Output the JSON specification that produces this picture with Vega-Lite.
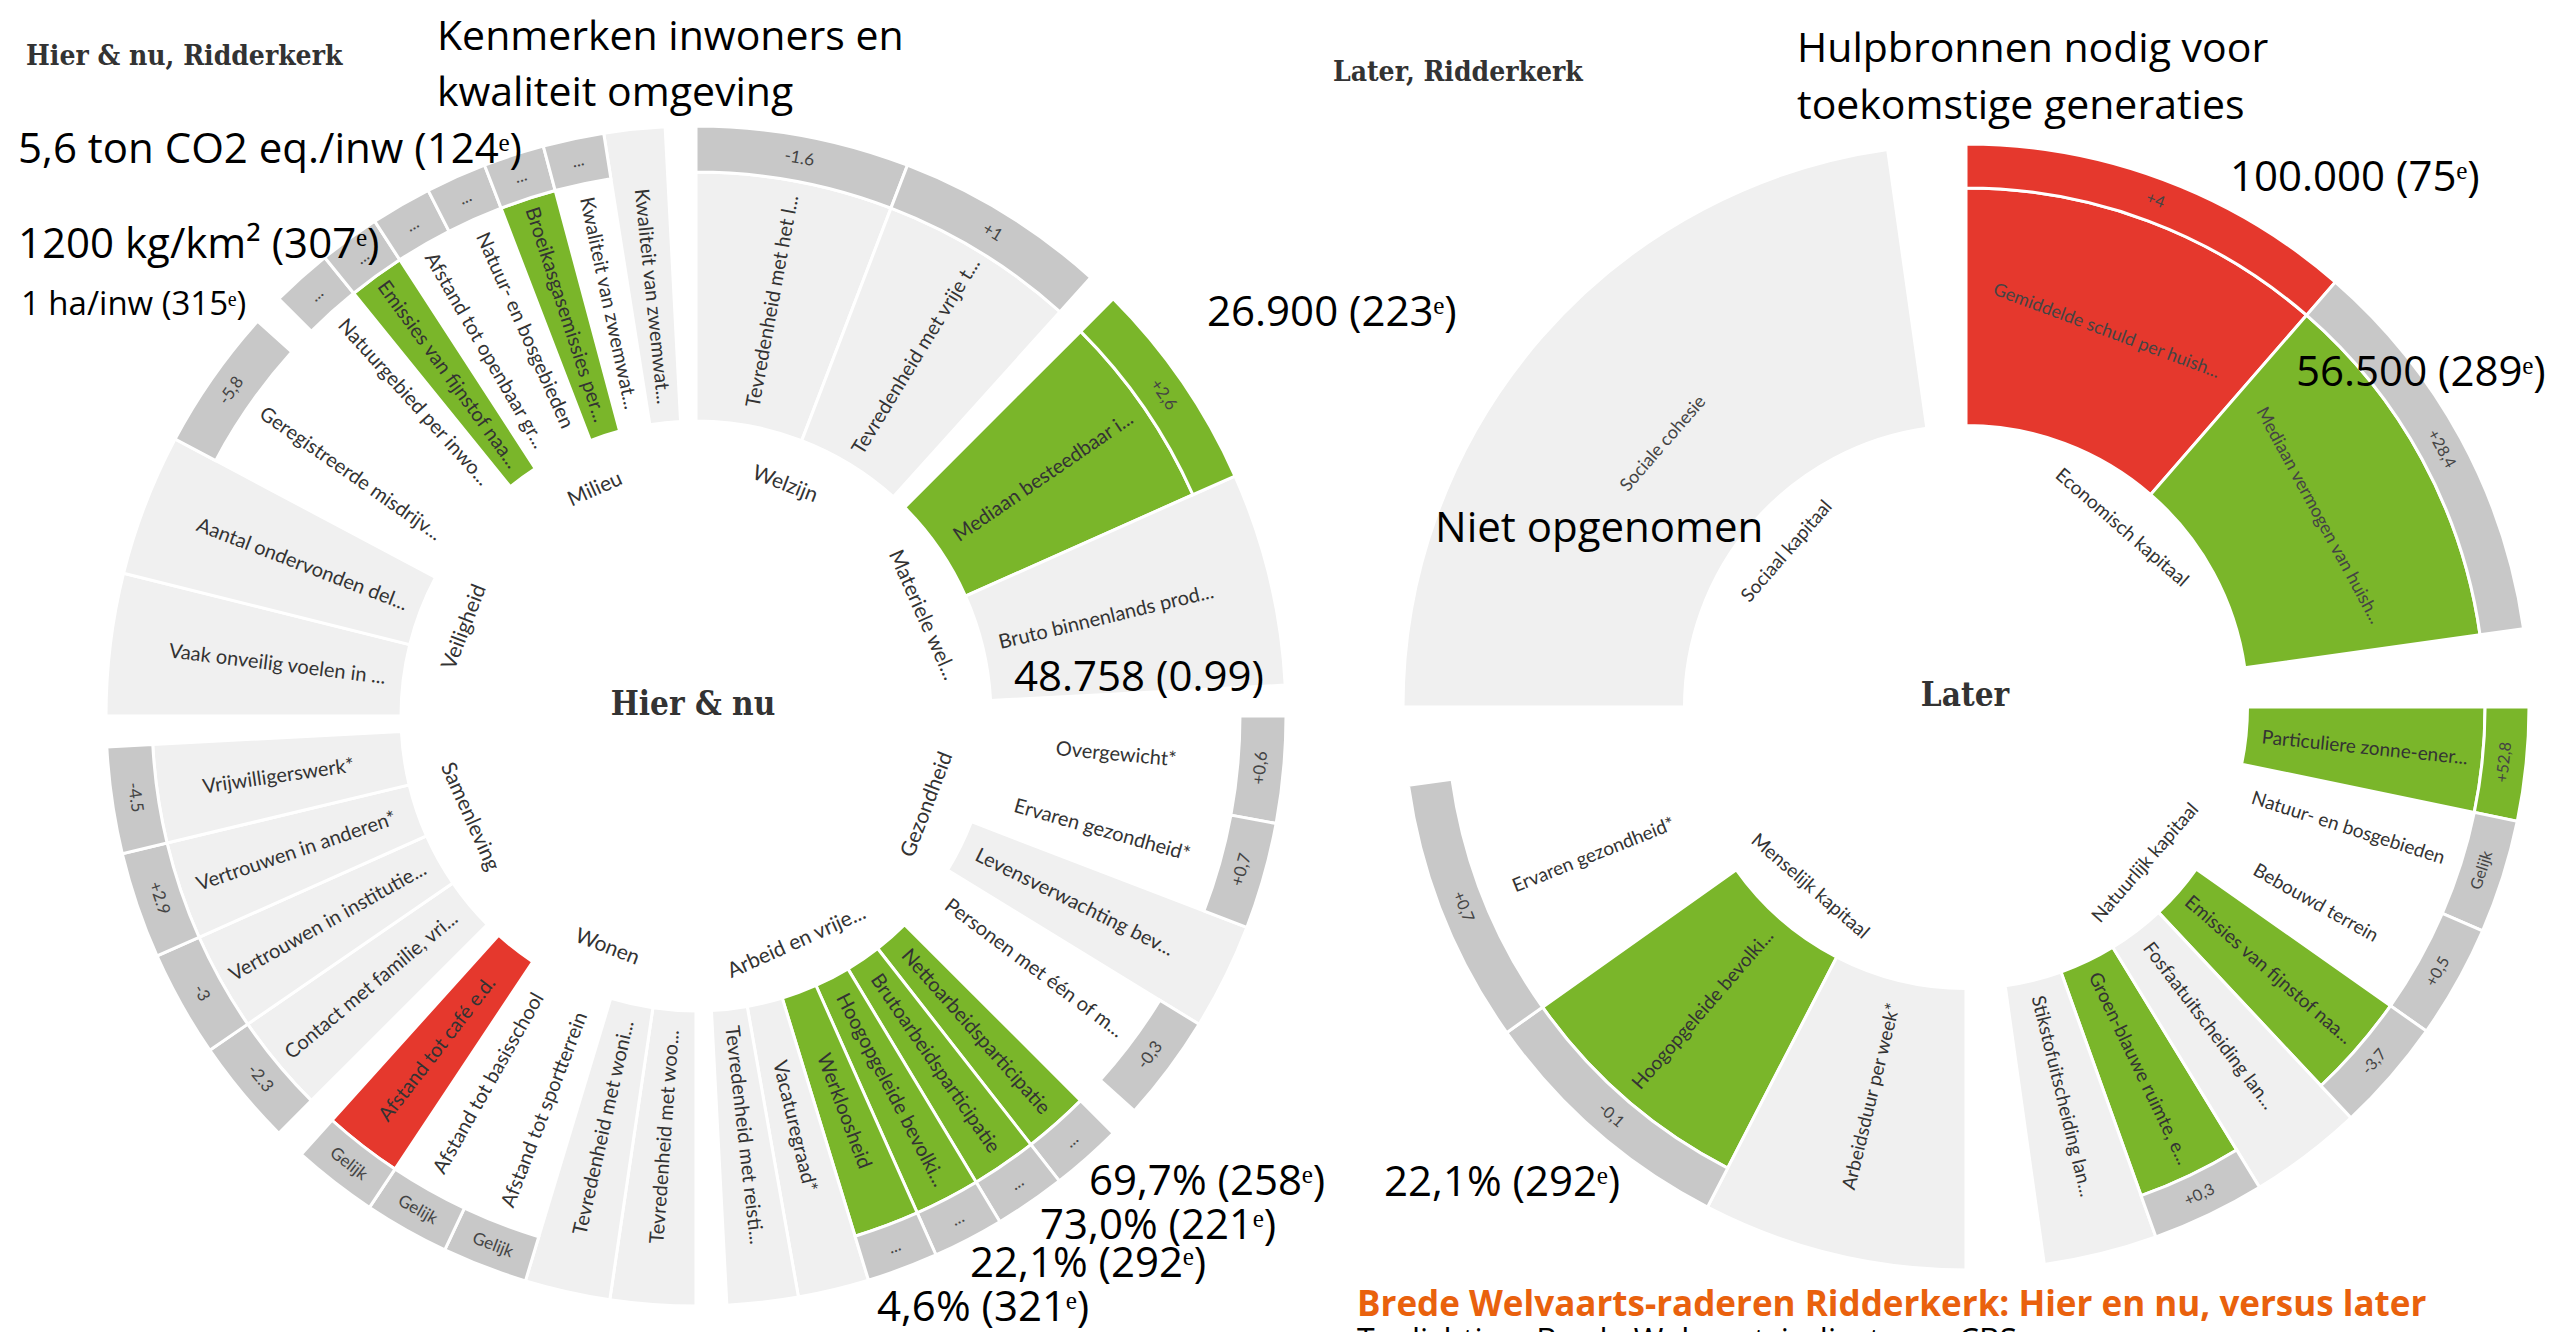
{
  "$schema": "https://vega.github.io/schema/vega-lite/v6.json",
  "width": 2557,
  "height": 1332,
  "autosize": {"type": "none"},
  "padding": 0,
  "background": "white",
  "config": {"view": {"stroke": null}},
  "datasets": {
    "hierNu": [
      {"thema": "Welzijn", "indicator": "Tevredenheid met het l...", "status": "geen oordeel", "trend": "-1.6", "trendKlasse": "neutraal"},
      {"thema": "Welzijn", "indicator": "Tevredenheid met vrije t...", "status": "geen oordeel", "trend": "+1", "trendKlasse": "neutraal"},
      {"thema": "Materiele wel...", "indicator": "Mediaan besteedbaar i...", "status": "relatief goed", "trend": "+2,6", "trendKlasse": "verbetering", "waarde": "26.900 (223ᵉ)"},
      {"thema": "Materiele wel...", "indicator": "Bruto binnenlands prod...", "status": "geen oordeel", "trend": null, "trendKlasse": null, "waarde": "48.758 (0.99)"},
      {"thema": "Gezondheid", "indicator": "Overgewicht*", "status": "gemiddeld", "trend": "+0,6", "trendKlasse": "neutraal"},
      {"thema": "Gezondheid", "indicator": "Ervaren gezondheid*", "status": "gemiddeld", "trend": "+0,7", "trendKlasse": "neutraal"},
      {"thema": "Gezondheid", "indicator": "Levensverwachting bev...", "status": "geen oordeel", "trend": null, "trendKlasse": null},
      {"thema": "Gezondheid", "indicator": "Personen met één of m...", "status": "gemiddeld", "trend": "-0,3", "trendKlasse": "neutraal"},
      {"thema": "Arbeid en vrije...", "indicator": "Nettoarbeidsparticipatie", "status": "relatief goed", "trend": "...", "trendKlasse": "onbekend", "waarde": "69,7% (258ᵉ)"},
      {"thema": "Arbeid en vrije...", "indicator": "Brutoarbeidsparticipatie", "status": "relatief goed", "trend": "...", "trendKlasse": "onbekend", "waarde": "73,0% (221ᵉ)"},
      {"thema": "Arbeid en vrije...", "indicator": "Hoogopgeleide bevolki...", "status": "relatief goed", "trend": "...", "trendKlasse": "onbekend", "waarde": "22,1% (292ᵉ)"},
      {"thema": "Arbeid en vrije...", "indicator": "Werkloosheid", "status": "relatief goed", "trend": "...", "trendKlasse": "onbekend", "waarde": "4,6% (321ᵉ)"},
      {"thema": "Arbeid en vrije...", "indicator": "Vacaturegraad*", "status": "geen oordeel", "trend": null, "trendKlasse": null},
      {"thema": "Arbeid en vrije...", "indicator": "Tevredenheid met reisti...", "status": "geen oordeel", "trend": null, "trendKlasse": null},
      {"thema": "Wonen", "indicator": "Tevredenheid met woo...", "status": "geen oordeel", "trend": null, "trendKlasse": null},
      {"thema": "Wonen", "indicator": "Tevredenheid met woni...", "status": "geen oordeel", "trend": null, "trendKlasse": null},
      {"thema": "Wonen", "indicator": "Afstand tot sportterrein", "status": "gemiddeld", "trend": "Gelijk", "trendKlasse": "neutraal"},
      {"thema": "Wonen", "indicator": "Afstand tot basisschool", "status": "gemiddeld", "trend": "Gelijk", "trendKlasse": "neutraal"},
      {"thema": "Wonen", "indicator": "Afstand tot café e.d.", "status": "relatief slecht", "trend": "Gelijk", "trendKlasse": "neutraal"},
      {"thema": "Samenleving", "indicator": "Contact met familie, vri...", "status": "geen oordeel", "trend": "-2.3", "trendKlasse": "neutraal"},
      {"thema": "Samenleving", "indicator": "Vertrouwen in institutie...", "status": "geen oordeel", "trend": "-3", "trendKlasse": "neutraal"},
      {"thema": "Samenleving", "indicator": "Vertrouwen in anderen*", "status": "geen oordeel", "trend": "+2.9", "trendKlasse": "neutraal"},
      {"thema": "Samenleving", "indicator": "Vrijwilligerswerk*", "status": "geen oordeel", "trend": "-4.5", "trendKlasse": "neutraal"},
      {"thema": "Veiligheid", "indicator": "Vaak onveilig voelen in ...", "status": "geen oordeel", "trend": null, "trendKlasse": null},
      {"thema": "Veiligheid", "indicator": "Aantal ondervonden del...", "status": "geen oordeel", "trend": null, "trendKlasse": null},
      {"thema": "Veiligheid", "indicator": "Geregistreerde misdrijv...", "status": "gemiddeld", "trend": "-5,8", "trendKlasse": "neutraal"},
      {"thema": "Milieu", "indicator": "Natuurgebied per inwo...", "status": "gemiddeld", "trend": "...", "trendKlasse": "onbekend", "waarde": "1 ha/inw (315ᵉ)"},
      {"thema": "Milieu", "indicator": "Emissies van fijnstof naa...", "status": "relatief goed", "trend": "...", "trendKlasse": "onbekend", "waarde": "1200 kg/km² (307ᵉ)"},
      {"thema": "Milieu", "indicator": "Afstand tot openbaar gr...", "status": "gemiddeld", "trend": "...", "trendKlasse": "onbekend"},
      {"thema": "Milieu", "indicator": "Natuur- en bosgebieden", "status": "gemiddeld", "trend": "...", "trendKlasse": "onbekend"},
      {"thema": "Milieu", "indicator": "Broeikasgasemissies per...", "status": "relatief goed", "trend": "...", "trendKlasse": "onbekend", "waarde": "5,6 ton CO2 eq./inw (124ᵉ)"},
      {"thema": "Milieu", "indicator": "Kwaliteit van zwemwat...", "status": "gemiddeld", "trend": "...", "trendKlasse": "onbekend"},
      {"thema": "Milieu", "indicator": "Kwaliteit van zwemwat...", "status": "geen oordeel", "trend": null, "trendKlasse": null}
    ],
    "later": [
      {"thema": "Economisch kapitaal", "indicator": "Gemiddelde schuld per huish...", "status": "relatief slecht", "trend": "+4", "trendKlasse": "verslechtering", "waarde": "100.000 (75ᵉ)"},
      {"thema": "Economisch kapitaal", "indicator": "Mediaan vermogen van huish...", "status": "relatief goed", "trend": "+28,4", "trendKlasse": "neutraal", "waarde": "56.500 (289ᵉ)"},
      {"thema": "Natuurlijk kapitaal", "indicator": "Particuliere zonne-ener...", "status": "relatief goed", "trend": "+52,8", "trendKlasse": "verbetering"},
      {"thema": "Natuurlijk kapitaal", "indicator": "Natuur- en bosgebieden", "status": "gemiddeld", "trend": "Gelijk", "trendKlasse": "neutraal"},
      {"thema": "Natuurlijk kapitaal", "indicator": "Bebouwd terrein", "status": "gemiddeld", "trend": "+0,5", "trendKlasse": "neutraal"},
      {"thema": "Natuurlijk kapitaal", "indicator": "Emissies van fijnstof naa...", "status": "relatief goed", "trend": "-3,7", "trendKlasse": "neutraal"},
      {"thema": "Natuurlijk kapitaal", "indicator": "Fosfaatuitscheiding lan...", "status": "geen oordeel", "trend": null, "trendKlasse": null},
      {"thema": "Natuurlijk kapitaal", "indicator": "Groen-blauwe ruimte, e...", "status": "relatief goed", "trend": "+0,3", "trendKlasse": "neutraal"},
      {"thema": "Natuurlijk kapitaal", "indicator": "Stikstofuitscheiding lan...", "status": "geen oordeel", "trend": null, "trendKlasse": null},
      {"thema": "Menselijk kapitaal", "indicator": "Arbeidsduur per week*", "status": "geen oordeel", "trend": null, "trendKlasse": null},
      {"thema": "Menselijk kapitaal", "indicator": "Hoogopgeleide bevolki...", "status": "relatief goed", "trend": "-0,1", "trendKlasse": "neutraal", "waarde": "22,1% (292ᵉ)"},
      {"thema": "Menselijk kapitaal", "indicator": "Ervaren gezondheid*", "status": "gemiddeld", "trend": "+0,7", "trendKlasse": "neutraal"},
      {"thema": "Sociaal kapitaal", "indicator": "Sociale cohesie", "status": "geen oordeel", "trend": null, "trendKlasse": null, "waarde": "Niet opgenomen"}
    ],
    "koppenL": [
      {"rol": "titel", "tekst": "Hier & nu, Ridderkerk"},
      {"rol": "onderwerp", "tekst": "Kenmerken inwoners en\nkwaliteit omgeving"},
      {"rol": "midden", "tekst": "Hier & nu"}
    ],
    "koppenR": [
      {"rol": "titel", "tekst": "Later, Ridderkerk"},
      {"rol": "onderwerp", "tekst": "Hulpbronnen nodig voor\ntoekomstige generaties"},
      {"rol": "midden", "tekst": "Later"},
      {"rol": "bijschrift", "tekst": "Brede Welvaarts-raderen Ridderkerk: Hier en nu, versus later"},
      {"rol": "toelichting", "tekst": "Toelichting: Brede Welvaartsindicatoren CBS"}
    ]
  },
  "layer": [
    {
      "data": {"name": "hierNu"},
      "transform": [
        {"window": [{"op": "row_number", "as": "i"}]},
        {"joinaggregate": [{"op": "min", "field": "i", "as": "i0"}, {"op": "count", "as": "n"}], "groupby": ["thema"]},
        {"window": [{"op": "dense_rank", "as": "k"}], "sort": [{"field": "i0", "order": "ascending"}]},
        {"calculate": "(datum.k - 1) * 45 + (datum.i - datum.i0) * 42 / datum.n", "as": "t0"},
        {"calculate": "datum.t0 + 42 / datum.n", "as": "t1"},
        {"calculate": "(datum.t0 + datum.t1) / 2", "as": "tm"},
        {"calculate": "(datum.k - 1) * 45 + 21", "as": "thm"},
        {"calculate": "datum.tm < 180 ? datum.tm - 90 : datum.tm - 270", "as": "rotR"},
        {"calculate": "datum.tm < 90 ? datum.tm : (datum.tm < 270 ? datum.tm - 180 : datum.tm - 360)", "as": "rotT"},
        {"calculate": "datum.thm < 90 ? datum.thm : (datum.thm < 270 ? datum.thm - 180 : datum.thm - 360)", "as": "rotThema"}
      ],
      "encoding": {
        "x": {"datum": "Hier & nu", "type": "nominal", "scale": {"type": "point", "domain": ["Hier & nu", "Later"], "range": [696, 1966], "padding": 0}, "axis": null},
        "y": {"datum": "Hier & nu", "type": "nominal", "scale": {"type": "point", "domain": ["Hier & nu", "Later"], "range": [716, 707], "padding": 0}, "axis": null}
      },
      "layer": [
        {
          "transform": [{"filter": "datum.status !== 'gemiddeld' && isValid(datum.trend)"}],
          "mark": {"type": "arc", "stroke": "white", "strokeWidth": 3},
          "encoding": {
            "theta": {"field": "t0", "type": "quantitative", "stack": null, "scale": {"domain": [0, 360], "range": [0, 6.283185307179586], "nice": false}},
            "theta2": {"field": "t1"},
            "radius": {"datum": 0.5, "type": "quantitative", "scale": {"type": "linear", "domain": [0, 1], "range": [0, 590], "nice": false}},
            "radius2": {"datum": 0.922},
            "color": {"field": "status", "type": "nominal", "legend": null, "scale": {"domain": ["relatief goed", "relatief slecht", "geen oordeel", "verbetering", "verslechtering", "neutraal", "onbekend"], "range": ["#7ab62a", "#e5382d", "#f0f0f0", "#7ab62a", "#e5382d", "#c8c8c8", "#c8c8c8"]}}
          }
        },
        {
          "transform": [{"filter": "datum.status !== 'gemiddeld' && !isValid(datum.trend)"}],
          "mark": {"type": "arc", "stroke": "white", "strokeWidth": 3},
          "encoding": {
            "theta": {"field": "t0", "type": "quantitative", "stack": null, "scale": {"domain": [0, 360], "range": [0, 6.283185307179586], "nice": false}},
            "theta2": {"field": "t1"},
            "radius": {"datum": 0.5, "type": "quantitative", "scale": {"type": "linear", "domain": [0, 1], "range": [0, 590], "nice": false}},
            "radius2": {"datum": 1},
            "color": {"field": "status", "type": "nominal", "legend": null, "scale": {"domain": ["relatief goed", "relatief slecht", "geen oordeel", "verbetering", "verslechtering", "neutraal", "onbekend"], "range": ["#7ab62a", "#e5382d", "#f0f0f0", "#7ab62a", "#e5382d", "#c8c8c8", "#c8c8c8"]}}
          }
        },
        {
          "transform": [{"filter": "isValid(datum.trend)"}],
          "mark": {"type": "arc", "stroke": "white", "strokeWidth": 3},
          "encoding": {
            "theta": {"field": "t0", "type": "quantitative", "stack": null, "scale": {"domain": [0, 360], "range": [0, 6.283185307179586], "nice": false}},
            "theta2": {"field": "t1"},
            "radius": {"datum": 0.922, "type": "quantitative", "scale": {"type": "linear", "domain": [0, 1], "range": [0, 590], "nice": false}},
            "radius2": {"datum": 1},
            "color": {"field": "trendKlasse", "type": "nominal", "legend": null, "scale": {"domain": ["relatief goed", "relatief slecht", "geen oordeel", "verbetering", "verslechtering", "neutraal", "onbekend"], "range": ["#7ab62a", "#e5382d", "#f0f0f0", "#7ab62a", "#e5382d", "#c8c8c8", "#c8c8c8"]}}
          }
        },
        {
          "mark": {"type": "text", "font": "Lato", "fontSize": 20, "color": "#333333", "align": "center", "baseline": "middle"},
          "encoding": {
            "theta": {"field": "tm", "type": "quantitative", "stack": null, "scale": {"domain": [0, 360], "range": [0, 6.283185307179586], "nice": false}},
            "radius": {"datum": 0.715, "type": "quantitative", "scale": {"type": "linear", "domain": [0, 1], "range": [0, 590], "nice": false}},
            "angle": {"field": "rotR", "type": "quantitative", "scale": null},
            "text": {"field": "indicator"}
          }
        },
        {
          "transform": [{"filter": "isValid(datum.trend)"}],
          "mark": {"type": "text", "font": "Lato", "fontSize": 17, "color": "#444444", "align": "center", "baseline": "middle"},
          "encoding": {
            "theta": {"field": "tm", "type": "quantitative", "stack": null, "scale": {"domain": [0, 360], "range": [0, 6.283185307179586], "nice": false}},
            "radius": {"datum": 0.961, "type": "quantitative", "scale": {"type": "linear", "domain": [0, 1], "range": [0, 590], "nice": false}},
            "angle": {"field": "rotT", "type": "quantitative", "scale": null},
            "text": {"field": "trend"}
          }
        },
        {
          "transform": [{"filter": "datum.i === datum.i0"}],
          "mark": {"type": "text", "font": "Lato", "fontSize": 21, "color": "#333333", "align": "center", "baseline": "middle"},
          "encoding": {
            "theta": {"field": "thm", "type": "quantitative", "stack": null, "scale": {"domain": [0, 360], "range": [0, 6.283185307179586], "nice": false}},
            "radius": {"datum": 0.42, "type": "quantitative", "scale": {"type": "linear", "domain": [0, 1], "range": [0, 590], "nice": false}},
            "angle": {"field": "rotThema", "type": "quantitative", "scale": null},
            "text": {"field": "thema"}
          }
        },
        {
          "transform": [{"filter": "datum.indicator === 'Mediaan besteedbaar i...'"}],
          "mark": {"type": "text", "font": "Open Sans", "fontSize": 42, "color": "black", "align": "left", "baseline": "middle"},
          "encoding": {"theta": {"datum": 51.74, "type": "quantitative"}, "radius": {"datum": 1.1031, "type": "quantitative"}, "text": {"field": "waarde"}}
        },
        {
          "transform": [{"filter": "datum.indicator === 'Bruto binnenlands prod...'"}],
          "mark": {"type": "text", "font": "Open Sans", "fontSize": 42, "color": "black", "align": "left", "baseline": "middle"},
          "encoding": {"theta": {"datum": 83.19, "type": "quantitative"}, "radius": {"datum": 0.5428, "type": "quantitative"}, "text": {"field": "waarde"}}
        },
        {
          "transform": [{"filter": "datum.indicator === 'Nettoarbeidsparticipatie'"}],
          "mark": {"type": "text", "font": "Open Sans", "fontSize": 42, "color": "black", "align": "left", "baseline": "middle"},
          "encoding": {"theta": {"datum": 139.86, "type": "quantitative"}, "radius": {"datum": 1.0332, "type": "quantitative"}, "text": {"field": "waarde"}}
        },
        {
          "transform": [{"filter": "datum.indicator === 'Brutoarbeidsparticipatie'"}],
          "mark": {"type": "text", "font": "Open Sans", "fontSize": 42, "color": "black", "align": "left", "baseline": "middle"},
          "encoding": {"theta": {"datum": 146.0, "type": "quantitative"}, "radius": {"datum": 1.0427, "type": "quantitative"}, "text": {"field": "waarde"}}
        },
        {
          "transform": [{"filter": "datum.indicator === 'Hoogopgeleide bevolki...'"}],
          "mark": {"type": "text", "font": "Open Sans", "fontSize": 42, "color": "black", "align": "left", "baseline": "middle"},
          "encoding": {"theta": {"datum": 153.43, "type": "quantitative"}, "radius": {"datum": 1.0385, "type": "quantitative"}, "text": {"field": "waarde"}}
        },
        {
          "transform": [{"filter": "datum.indicator === 'Werkloosheid'"}],
          "mark": {"type": "text", "font": "Open Sans", "fontSize": 42, "color": "black", "align": "left", "baseline": "middle"},
          "encoding": {"theta": {"datum": 163.0, "type": "quantitative"}, "radius": {"datum": 1.0492, "type": "quantitative"}, "text": {"field": "waarde"}}
        },
        {
          "transform": [{"filter": "datum.indicator === 'Broeikasgasemissies per...'"}],
          "mark": {"type": "text", "font": "Open Sans", "fontSize": 42, "color": "black", "align": "left", "baseline": "middle"},
          "encoding": {"theta": {"datum": 309.86, "type": "quantitative"}, "radius": {"datum": 1.497, "type": "quantitative"}, "text": {"field": "waarde"}}
        },
        {
          "transform": [{"filter": "datum.indicator === 'Emissies van fijnstof naa...'"}],
          "mark": {"type": "text", "font": "Open Sans", "fontSize": 42, "color": "black", "align": "left", "baseline": "middle"},
          "encoding": {"theta": {"datum": 304.79, "type": "quantitative"}, "radius": {"datum": 1.3992, "type": "quantitative"}, "text": {"field": "waarde"}}
        },
        {
          "transform": [{"filter": "datum.indicator === 'Natuurgebied per inwo...'"}],
          "mark": {"type": "text", "font": "Open Sans", "fontSize": 33, "color": "black", "align": "left", "baseline": "middle"},
          "encoding": {"theta": {"datum": 301.33, "type": "quantitative"}, "radius": {"datum": 1.3395, "type": "quantitative"}, "text": {"field": "waarde"}}
        }
      ]
    },
    {
      "data": {"name": "koppenL"},
      "encoding": {
        "x": {"datum": "Hier & nu", "type": "nominal", "scale": {"type": "point", "domain": ["Hier & nu", "Later"], "range": [696, 1966], "padding": 0}, "axis": null},
        "y": {"datum": "Hier & nu", "type": "nominal", "scale": {"type": "point", "domain": ["Hier & nu", "Later"], "range": [716, 707], "padding": 0}, "axis": null}
      },
      "layer": [
        {
          "transform": [{"filter": "datum.rol === 'titel'"}],
          "mark": {"type": "text", "font": "DejaVu Serif Condensed, DejaVu Serif", "fontWeight": "bold", "fontSize": 28, "color": "#333333", "align": "left", "baseline": "middle"},
          "encoding": {
            "theta": {"datum": 314.53, "type": "quantitative", "scale": {"domain": [0, 360], "range": [0, 6.283185307179586], "nice": false}},
            "radius": {"datum": 1.5929, "type": "quantitative", "scale": {"type": "linear", "domain": [0, 1], "range": [0, 590], "nice": false}},
            "text": {"field": "tekst"}
          }
        },
        {
          "transform": [{"filter": "datum.rol === 'onderwerp'"}],
          "mark": {"type": "text", "font": "Open Sans", "fontSize": 41, "color": "black", "align": "left", "baseline": "alphabetic", "lineBreak": "\n", "lineHeight": 56},
          "encoding": {
            "theta": {"datum": 338.75, "type": "quantitative"},
            "radius": {"datum": 1.2112, "type": "quantitative"},
            "text": {"field": "tekst"}
          }
        },
        {
          "transform": [{"filter": "datum.rol === 'midden'"}],
          "mark": {"type": "text", "font": "DejaVu Serif Condensed, DejaVu Serif", "fontWeight": "bold", "fontSize": 33, "color": "#333333", "align": "center", "baseline": "middle"},
          "encoding": {
            "theta": {"datum": 345, "type": "quantitative"},
            "radius": {"datum": 0.0193, "type": "quantitative"},
            "text": {"field": "tekst"}
          }
        }
      ]
    },
    {
      "data": {"name": "later"},
      "transform": [
        {"window": [{"op": "row_number", "as": "i"}]},
        {"joinaggregate": [{"op": "min", "field": "i", "as": "i0"}, {"op": "count", "as": "n"}], "groupby": ["thema"]},
        {"window": [{"op": "dense_rank", "as": "k"}], "sort": [{"field": "i0", "order": "ascending"}]},
        {"calculate": "(datum.k - 1) * 90 + (datum.i - datum.i0) * 82 / datum.n", "as": "t0"},
        {"calculate": "datum.t0 + 82 / datum.n", "as": "t1"},
        {"calculate": "(datum.t0 + datum.t1) / 2", "as": "tm"},
        {"calculate": "(datum.k - 1) * 90 + 41", "as": "thm"},
        {"calculate": "datum.tm < 180 ? datum.tm - 90 : datum.tm - 270", "as": "rotR"},
        {"calculate": "datum.tm < 90 ? datum.tm : (datum.tm < 270 ? datum.tm - 180 : datum.tm - 360)", "as": "rotT"},
        {"calculate": "datum.thm < 90 ? datum.thm : (datum.thm < 270 ? datum.thm - 180 : datum.thm - 360)", "as": "rotThema"}
      ],
      "encoding": {
        "x": {"datum": "Later", "type": "nominal", "scale": {"type": "point", "domain": ["Hier & nu", "Later"], "range": [696, 1966], "padding": 0}, "axis": null},
        "y": {"datum": "Later", "type": "nominal", "scale": {"type": "point", "domain": ["Hier & nu", "Later"], "range": [716, 707], "padding": 0}, "axis": null}
      },
      "layer": [
        {
          "transform": [{"filter": "datum.status !== 'gemiddeld' && isValid(datum.trend)"}],
          "mark": {"type": "arc", "stroke": "white", "strokeWidth": 3},
          "encoding": {
            "theta": {"field": "t0", "type": "quantitative", "stack": null, "scale": {"domain": [0, 360], "range": [0, 6.283185307179586], "nice": false}},
            "theta2": {"field": "t1"},
            "radius": {"datum": 0.5, "type": "quantitative", "scale": {"type": "linear", "domain": [0, 1], "range": [0, 563], "nice": false}},
            "radius2": {"datum": 0.922},
            "color": {"field": "status", "type": "nominal", "legend": null, "scale": {"domain": ["relatief goed", "relatief slecht", "geen oordeel", "verbetering", "verslechtering", "neutraal", "onbekend"], "range": ["#7ab62a", "#e5382d", "#f0f0f0", "#7ab62a", "#e5382d", "#c8c8c8", "#c8c8c8"]}}
          }
        },
        {
          "transform": [{"filter": "datum.status !== 'gemiddeld' && !isValid(datum.trend)"}],
          "mark": {"type": "arc", "stroke": "white", "strokeWidth": 3},
          "encoding": {
            "theta": {"field": "t0", "type": "quantitative", "stack": null, "scale": {"domain": [0, 360], "range": [0, 6.283185307179586], "nice": false}},
            "theta2": {"field": "t1"},
            "radius": {"datum": 0.5, "type": "quantitative", "scale": {"type": "linear", "domain": [0, 1], "range": [0, 563], "nice": false}},
            "radius2": {"datum": 1},
            "color": {"field": "status", "type": "nominal", "legend": null, "scale": {"domain": ["relatief goed", "relatief slecht", "geen oordeel", "verbetering", "verslechtering", "neutraal", "onbekend"], "range": ["#7ab62a", "#e5382d", "#f0f0f0", "#7ab62a", "#e5382d", "#c8c8c8", "#c8c8c8"]}}
          }
        },
        {
          "transform": [{"filter": "isValid(datum.trend)"}],
          "mark": {"type": "arc", "stroke": "white", "strokeWidth": 3},
          "encoding": {
            "theta": {"field": "t0", "type": "quantitative", "stack": null, "scale": {"domain": [0, 360], "range": [0, 6.283185307179586], "nice": false}},
            "theta2": {"field": "t1"},
            "radius": {"datum": 0.922, "type": "quantitative", "scale": {"type": "linear", "domain": [0, 1], "range": [0, 563], "nice": false}},
            "radius2": {"datum": 1},
            "color": {"field": "trendKlasse", "type": "nominal", "legend": null, "scale": {"domain": ["relatief goed", "relatief slecht", "geen oordeel", "verbetering", "verslechtering", "neutraal", "onbekend"], "range": ["#7ab62a", "#e5382d", "#f0f0f0", "#7ab62a", "#e5382d", "#c8c8c8", "#c8c8c8"]}}
          }
        },
        {
          "transform": [{"filter": "datum.thema !== 'Economisch kapitaal' && datum.thema !== 'Sociaal kapitaal'"}],
          "mark": {"type": "text", "font": "Lato", "fontSize": 19, "color": "#333333", "align": "center", "baseline": "middle"},
          "encoding": {
            "theta": {"field": "tm", "type": "quantitative", "stack": null, "scale": {"domain": [0, 360], "range": [0, 6.283185307179586], "nice": false}},
            "radius": {"datum": 0.712, "type": "quantitative", "scale": {"type": "linear", "domain": [0, 1], "range": [0, 563], "nice": false}},
            "angle": {"field": "rotR", "type": "quantitative", "scale": null},
            "text": {"field": "indicator"}
          }
        },
        {
          "transform": [{"filter": "datum.thema === 'Economisch kapitaal' || datum.thema === 'Sociaal kapitaal'"}],
          "mark": {"type": "text", "font": "Lato", "fontSize": 18, "color": "#444444", "align": "center", "baseline": "middle"},
          "encoding": {
            "theta": {"field": "tm", "type": "quantitative", "stack": null, "scale": {"domain": [0, 360], "range": [0, 6.283185307179586], "nice": false}},
            "radius": {"datum": 0.712, "type": "quantitative", "scale": {"type": "linear", "domain": [0, 1], "range": [0, 563], "nice": false}},
            "angle": {"field": "rotT", "type": "quantitative", "scale": null},
            "text": {"field": "indicator"}
          }
        },
        {
          "transform": [{"filter": "isValid(datum.trend)"}],
          "mark": {"type": "text", "font": "Lato", "fontSize": 16, "color": "#444444", "align": "center", "baseline": "middle"},
          "encoding": {
            "theta": {"field": "tm", "type": "quantitative", "stack": null, "scale": {"domain": [0, 360], "range": [0, 6.283185307179586], "nice": false}},
            "radius": {"datum": 0.961, "type": "quantitative", "scale": {"type": "linear", "domain": [0, 1], "range": [0, 563], "nice": false}},
            "angle": {"field": "rotT", "type": "quantitative", "scale": null},
            "text": {"field": "trend"}
          }
        },
        {
          "transform": [{"filter": "datum.i === datum.i0"}],
          "mark": {"type": "text", "font": "Lato", "fontSize": 19, "color": "#333333", "align": "center", "baseline": "middle"},
          "encoding": {
            "theta": {"field": "thm", "type": "quantitative", "stack": null, "scale": {"domain": [0, 360], "range": [0, 6.283185307179586], "nice": false}},
            "radius": {"datum": 0.422, "type": "quantitative", "scale": {"type": "linear", "domain": [0, 1], "range": [0, 563], "nice": false}},
            "angle": {"field": "rotThema", "type": "quantitative", "scale": null},
            "text": {"field": "thema"}
          }
        },
        {
          "transform": [{"filter": "datum.indicator === 'Gemiddelde schuld per huish...'"}],
          "mark": {"type": "text", "font": "Open Sans", "fontSize": 42, "color": "black", "align": "left", "baseline": "middle"},
          "encoding": {"theta": {"datum": 26.52, "type": "quantitative"}, "radius": {"datum": 1.0501, "type": "quantitative"}, "text": {"field": "waarde"}}
        },
        {
          "transform": [{"filter": "datum.indicator === 'Mediaan vermogen van huish...'"}],
          "mark": {"type": "text", "font": "Open Sans", "fontSize": 42, "color": "black", "align": "left", "baseline": "middle"},
          "encoding": {"theta": {"datum": 44.66, "type": "quantitative"}, "radius": {"datum": 0.834, "type": "quantitative"}, "text": {"field": "waarde"}}
        },
        {
          "transform": [{"filter": "datum.indicator === 'Hoogopgeleide bevolki...'"}],
          "mark": {"type": "text", "font": "Open Sans", "fontSize": 42, "color": "black", "align": "left", "baseline": "middle"},
          "encoding": {"theta": {"datum": 230.72, "type": "quantitative"}, "radius": {"datum": 1.3355, "type": "quantitative"}, "text": {"field": "waarde"}}
        },
        {
          "transform": [{"filter": "datum.indicator === 'Sociale cohesie'"}],
          "mark": {"type": "text", "font": "Open Sans", "fontSize": 42, "color": "black", "align": "left", "baseline": "middle"},
          "encoding": {"theta": {"datum": 288.53, "type": "quantitative"}, "radius": {"datum": 0.9947, "type": "quantitative"}, "text": {"field": "waarde"}}
        }
      ]
    },
    {
      "data": {"name": "koppenR"},
      "encoding": {
        "x": {"datum": "Later", "type": "nominal", "scale": {"type": "point", "domain": ["Hier & nu", "Later"], "range": [696, 1966], "padding": 0}, "axis": null},
        "y": {"datum": "Later", "type": "nominal", "scale": {"type": "point", "domain": ["Hier & nu", "Later"], "range": [716, 707], "padding": 0}, "axis": null}
      },
      "layer": [
        {
          "transform": [{"filter": "datum.rol === 'titel'"}],
          "mark": {"type": "text", "font": "DejaVu Serif Condensed, DejaVu Serif", "fontWeight": "bold", "fontSize": 28, "color": "#333333", "align": "left", "baseline": "middle"},
          "encoding": {
            "theta": {"datum": 315.04, "type": "quantitative", "scale": {"domain": [0, 360], "range": [0, 6.283185307179586], "nice": false}},
            "radius": {"datum": 1.5913, "type": "quantitative", "scale": {"type": "linear", "domain": [0, 1], "range": [0, 563], "nice": false}},
            "text": {"field": "tekst"}
          }
        },
        {
          "transform": [{"filter": "datum.rol === 'onderwerp'"}],
          "mark": {"type": "text", "font": "Open Sans", "fontSize": 41, "color": "black", "align": "left", "baseline": "alphabetic", "lineBreak": "\n", "lineHeight": 57},
          "encoding": {
            "theta": {"datum": 345.31, "type": "quantitative"},
            "radius": {"datum": 1.1835, "type": "quantitative"},
            "text": {"field": "tekst"}
          }
        },
        {
          "transform": [{"filter": "datum.rol === 'midden'"}],
          "mark": {"type": "text", "font": "DejaVu Serif Condensed, DejaVu Serif", "fontWeight": "bold", "fontSize": 33, "color": "#333333", "align": "center", "baseline": "middle"},
          "encoding": {
            "theta": {"datum": 355, "type": "quantitative"},
            "radius": {"datum": 0.0196, "type": "quantitative"},
            "text": {"field": "tekst"}
          }
        },
        {
          "transform": [{"filter": "datum.rol === 'bijschrift'"}],
          "mark": {"type": "text", "font": "Liberation Sans Narrow, Open Sans", "fontWeight": "bold", "fontSize": 35, "color": "#e9610d", "align": "left", "baseline": "middle"},
          "encoding": {
            "theta": {"datum": 225.52, "type": "quantitative"},
            "radius": {"datum": 1.516, "type": "quantitative"},
            "text": {"field": "tekst"}
          }
        },
        {
          "transform": [{"filter": "datum.rol === 'toelichting'"}],
          "mark": {"type": "text", "font": "Liberation Sans Narrow, Open Sans", "fontSize": 32, "color": "black", "align": "left", "baseline": "middle"},
          "encoding": {
            "theta": {"datum": 223.8, "type": "quantitative"},
            "radius": {"datum": 1.5627, "type": "quantitative"},
            "text": {"field": "tekst"}
          }
        }
      ]
    }
  ],
  "resolve": {"scale": {"radius": "independent"}}
}
